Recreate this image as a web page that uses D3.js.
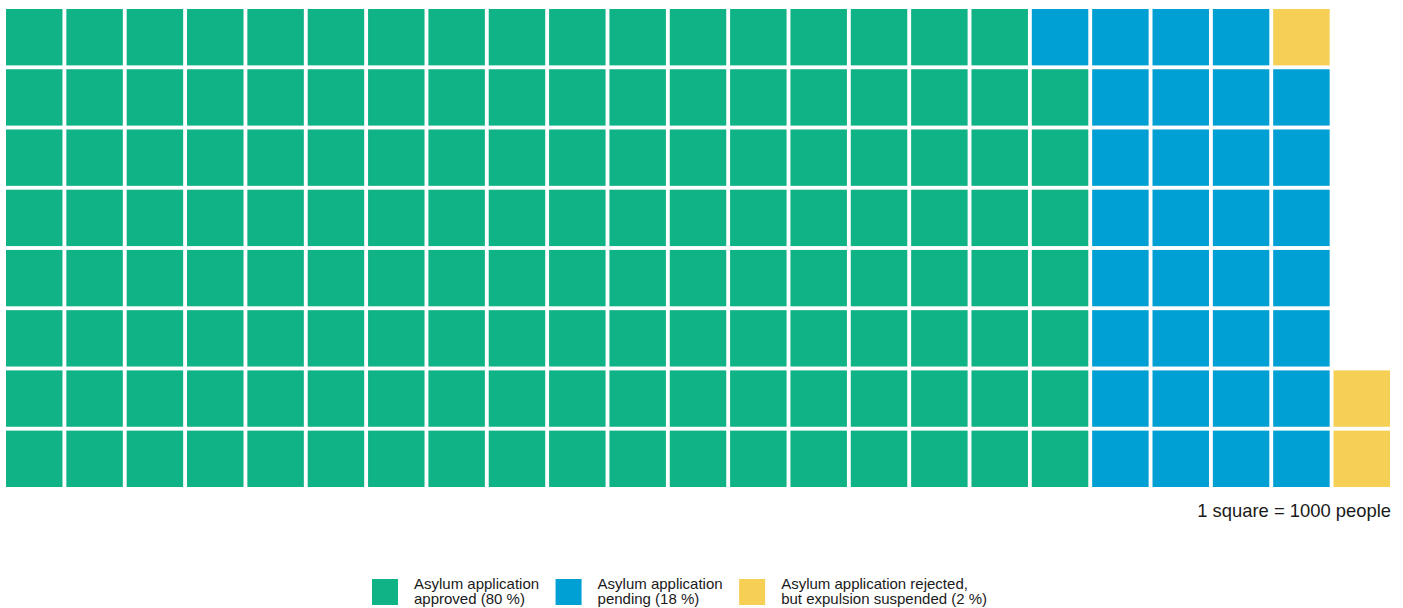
<!DOCTYPE html>
<html>
<head>
<meta charset="utf-8">
<script src="https://cdn.jsdelivr.net/npm/d3@7"></script>
<style>
  body { margin: 0; background: #fff; }
  text { font-family: "Liberation Sans", Arial, sans-serif; fill: #1a1a1a; }
</style>
</head>
<body>
<svg id="chart"></svg>
<script>
const canvasWidth = 1403,
    canvasHeight = 608,
    rows = 8,
    cols = 23

// one square = 1000 people
const categories = ['approved', 'pending', 'rejected']
const squares = [143, 32, 3]
const labels = [
    ['Asylum application', 'approved (80 %)'],
    ['Asylum application', 'pending (18 %)'],
    ['Asylum application rejected,', 'but expulsion suspended (2 %)']
]
const colors = ['#10b386', '#00a0d4', '#f6cf55']

const svg = d3.select('#chart')
    .attr('width', canvasWidth)
    .attr('height', canvasHeight)

var x = d3.scaleBand().domain(d3.range(cols)).range([6, 1390]).paddingInner(0.064).paddingOuter(0)
var y = d3.scaleBand().domain(d3.range(rows)).range([9, 487]).paddingInner(0.064).paddingOuter(0)
var color = d3.scaleOrdinal().domain(categories).range(colors)

// fill column by column, bottom to top
var cells = []
categories.forEach((c, i) => {
    for (let k = 0; k < squares[i]; k++) cells.push(c)
})
cells = cells.map((c, i) => ({
    cat: c,
    col: Math.floor(i / rows),
    row: rows - 1 - (i % rows)
}))

svg.append('g')
    .selectAll('rect')
    .data(cells)
    .enter().append('rect')
    .attr('x', d => x(d.col))
    .attr('y', d => y(d.row))
    .attr('width', x.bandwidth())
    .attr('height', y.bandwidth())
    .attr('fill', d => color(d.cat))

svg.append('text')
    .attr('x', 1391)
    .attr('y', 517)
    .attr('text-anchor', 'end')
    .style('font-size', '18.4px')
    .text('1 square = 1000 people')

// legend
var legend = svg.append('g').attr('class', 'legend')
var lx = 372
categories.forEach((c, i) => {
    var item = legend.append('g').attr('transform', `translate(${lx}, 0)`)
    item.append('rect')
        .attr('x', 0).attr('y', 579)
        .attr('width', 26).attr('height', 26)
        .attr('fill', color(c))
    var t = item.append('text')
        .attr('x', 42)
        .attr('y', 589)
        .style('font-size', '15px')
    t.selectAll('tspan')
        .data(labels[i])
        .enter().append('tspan')
        .attr('x', 42)
        .attr('dy', (d, j) => j ? 15 : 0)
        .text(d => d)
    lx += 42 + t.node().getBBox().width + 16.5
})
</script>
</body>
</html>
